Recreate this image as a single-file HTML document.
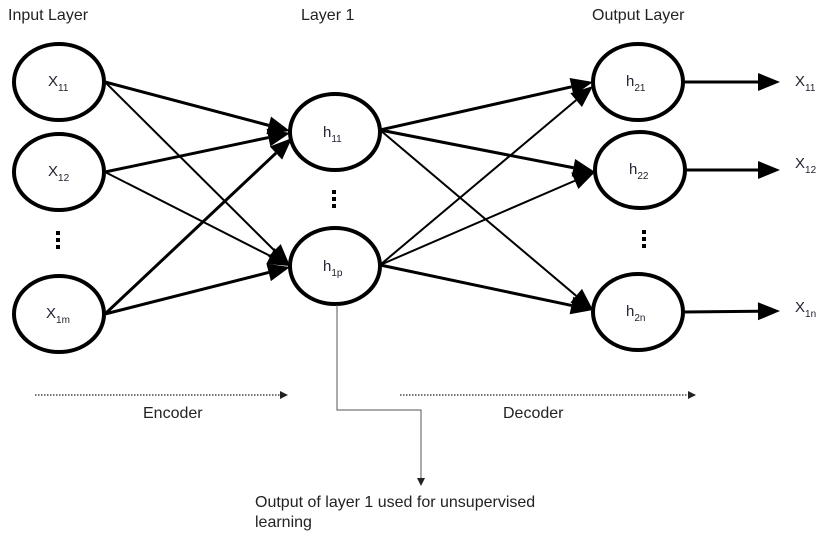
<!DOCTYPE html>
<html><head><style>body{margin:0;background:#fff}svg{display:block}text{font-family:"Liberation Sans",sans-serif}</style></head><body>
<svg id="s" width="828" height="541" xmlns="http://www.w3.org/2000/svg">
<defs>
<marker id="sm" markerWidth="8" markerHeight="8" refX="7" refY="4" orient="auto" markerUnits="userSpaceOnUse"><path d="M0,0L8,4L0,8z" fill="#222"/></marker>
</defs>
<g font-size="16" fill="#222">
<text x="8" y="20">Input Layer</text>
<text x="301" y="20">Layer 1</text>
<text x="592" y="20">Output Layer</text>
</g>
<g fill="#fff" stroke="#000" stroke-width="4">
<ellipse cx="59" cy="82" rx="45" ry="38"/>
<ellipse cx="59" cy="172" rx="45" ry="38"/>
<ellipse cx="59" cy="314" rx="45" ry="38"/>
<ellipse cx="335" cy="132" rx="45" ry="38"/>
<ellipse cx="335" cy="266" rx="45" ry="38"/>
<ellipse cx="638" cy="82" rx="45" ry="38"/>
<ellipse cx="640" cy="170" rx="45" ry="38"/>
<ellipse cx="638" cy="312" rx="45" ry="38"/>
</g>
<g id="arr"></g>
<g fill="#000">
<rect x="56" y="231" width="4" height="4"/><rect x="56" y="238" width="4" height="4"/><rect x="56" y="245" width="4" height="4"/>
<rect x="332" y="190" width="4" height="4"/><rect x="332" y="197" width="4" height="4"/><rect x="332" y="204" width="4" height="4"/>
<rect x="642" y="230" width="4" height="4"/><rect x="642" y="237" width="4" height="4"/><rect x="642" y="244" width="4" height="4"/>
</g>
<g font-size="15" fill="#223">
<text x="48" y="86">X<tspan font-size="10" dy="5">11</tspan></text>
<text x="48" y="176">X<tspan font-size="10" dy="5">12</tspan></text>
<text x="46" y="318">X<tspan font-size="10" dy="5">1m</tspan></text>
<text x="323" y="137">h<tspan font-size="10" dy="5">11</tspan></text>
<text x="323" y="271">h<tspan font-size="10" dy="5">1p</tspan></text>
<text x="626" y="86">h<tspan font-size="10" dy="5">21</tspan></text>
<text x="629" y="174">h<tspan font-size="10" dy="5">22</tspan></text>
<text x="626" y="316">h<tspan font-size="10" dy="5">2n</tspan></text>
<text x="795" y="86">X<tspan font-size="10" dy="5">11</tspan></text>
<text x="795" y="168">X<tspan font-size="10" dy="5">12</tspan></text>
<text x="795" y="312">X<tspan font-size="10" dy="5">1n</tspan></text>
</g>
<g stroke="#222" stroke-width="1.3" stroke-dasharray="1.5,1.5" marker-end="url(#sm)">
<line x1="35" y1="395" x2="287" y2="395"/>
<line x1="400" y1="395" x2="695" y2="395"/>
</g>
<g font-size="16" fill="#222">
<text x="143" y="418">Encoder</text>
<text x="503" y="418">Decoder</text>
<text x="255" y="507">Output of layer 1 used for unsupervised</text>
<text x="255" y="527">learning</text>
</g>
<polyline points="337,305 337,410 421,410 421,485" fill="none" stroke="#555" stroke-width="1" marker-end="url(#sm)"/>
</svg>
<script>
var L=[[105,82,290,131,3],[105,172,290,133,3],[105,314,292,138,3],[105,82,290,266,2],[105,172,290,266,2],[105,314,290,267,3],
[380,130,593,82,3],[380,130,595,172,3],[380,130,593,310,2],[380,265,593,86,2],[380,265,595,172,2],[380,265,593,310,3],
[683,82,780,82,3],[685,170,780,170,3],[683,312,780,311,3]];
var g=document.getElementById('arr'),h='';
L.forEach(function(a){var dx=a[2]-a[0],dy=a[3]-a[1],d=Math.hypot(dx,dy),ux=dx/d,uy=dy/d,bx=a[2]-22*ux,by=a[3]-22*uy,px=-uy*9,py=ux*9;
h+='<line x1="'+a[0]+'" y1="'+a[1]+'" x2="'+bx+'" y2="'+by+'" stroke="#000" stroke-width="'+a[4]+'"/>';
h+='<polygon points="'+a[2]+','+a[3]+' '+(bx+px)+','+(by+py)+' '+(bx-px)+','+(by-py)+'" fill="#000"/>';});
g.innerHTML=h;
</script>
</body></html>
